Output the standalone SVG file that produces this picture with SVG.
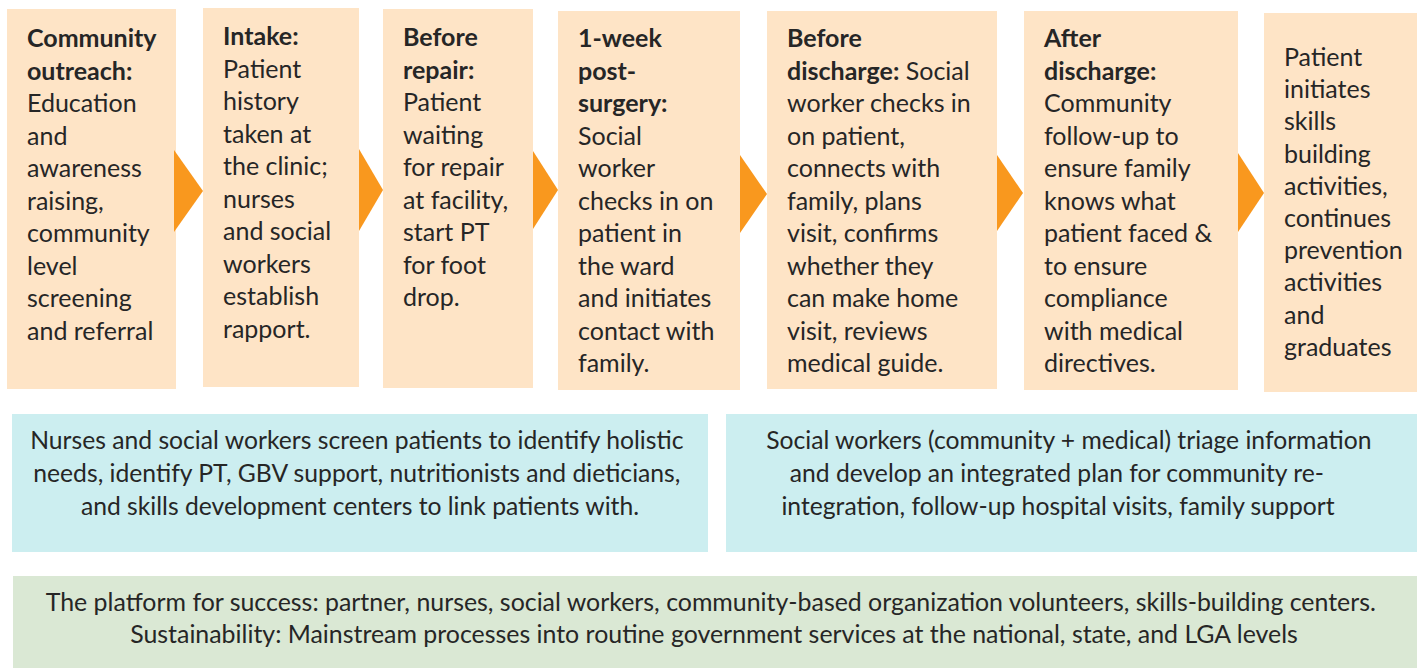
<svg xmlns="http://www.w3.org/2000/svg" width="1417" height="668" viewBox="0 0 1417 668">
<style>
.step{fill:#FEE4C6}
.cy{fill:#CCEEF0}
.gr{fill:#DAE8D4}
.arr{fill:#F9981E}
text{font-family:Lato,"Open Sans","Liberation Sans",sans-serif;fill:#262626}
.t{font-size:25px}
.b{font-weight:bold}
.c{font-size:24.7px;text-anchor:middle}
.g{font-size:24.9px;text-anchor:middle}
</style>
<rect width="1417" height="668" fill="#ffffff"/>
<g id="step1">
<rect class="step" x="7" y="9" width="169" height="380"/>
<text class="t" x="27">
<tspan class="b" x="27" y="47">Community</tspan>
<tspan class="b" x="27" y="79.5">outreach:</tspan>
<tspan x="27" y="112">Education</tspan>
<tspan x="27" y="144.5">and</tspan>
<tspan x="27" y="177">awareness</tspan>
<tspan x="27" y="209.5">raising,</tspan>
<tspan x="27" y="242">community</tspan>
<tspan x="27" y="274.5">level</tspan>
<tspan x="27" y="307">screening</tspan>
<tspan x="27" y="339.5">and referral</tspan>
</text>
</g>
<g id="step2">
<rect class="step" x="203" y="8" width="156" height="379"/>
<text class="t">
<tspan class="b" x="223" y="45">Intake:</tspan>
<tspan x="223" y="77.5">Patient</tspan>
<tspan x="223" y="110">history</tspan>
<tspan x="223" y="142.5">taken at</tspan>
<tspan x="223" y="175">the clinic;</tspan>
<tspan x="223" y="207.5">nurses</tspan>
<tspan x="223" y="240">and social</tspan>
<tspan x="223" y="272.5">workers</tspan>
<tspan x="223" y="305">establish</tspan>
<tspan x="223" y="337.5">rapport.</tspan>
</text>
</g>
<g id="step3">
<rect class="step" x="383" y="9" width="150" height="379"/>
<text class="t">
<tspan class="b" x="403" y="46">Before</tspan>
<tspan class="b" x="403" y="78.5">repair:</tspan>
<tspan x="403" y="111">Patient</tspan>
<tspan x="403" y="143.5">waiting</tspan>
<tspan x="403" y="176">for repair</tspan>
<tspan x="403" y="208.5">at facility,</tspan>
<tspan x="403" y="241">start PT</tspan>
<tspan x="403" y="273.5">for foot</tspan>
<tspan x="403" y="306">drop.</tspan>
</text>
</g>
<g id="step4">
<rect class="step" x="558" y="11" width="182" height="379"/>
<text class="t">
<tspan class="b" x="578" y="47">1-week</tspan>
<tspan class="b" x="578" y="79.5">post-</tspan>
<tspan class="b" x="578" y="112">surgery:</tspan>
<tspan x="578" y="144.5">Social</tspan>
<tspan x="578" y="177">worker</tspan>
<tspan x="578" y="209.5">checks in on</tspan>
<tspan x="578" y="242">patient in</tspan>
<tspan x="578" y="274.5">the ward</tspan>
<tspan x="578" y="307">and initiates</tspan>
<tspan x="578" y="339.5">contact with</tspan>
<tspan x="578" y="372">family.</tspan>
</text>
</g>
<g id="step5">
<rect class="step" x="767" y="11" width="230" height="378"/>
<text class="t">
<tspan class="b" x="787" y="47">Before</tspan>
<tspan x="787" y="79.5"><tspan class="b">discharge:</tspan> Social</tspan>
<tspan x="787" y="112">worker checks in</tspan>
<tspan x="787" y="144.5">on patient,</tspan>
<tspan x="787" y="177">connects with</tspan>
<tspan x="787" y="209.5">family, plans</tspan>
<tspan x="787" y="242">visit, confirms</tspan>
<tspan x="787" y="274.5">whether they</tspan>
<tspan x="787" y="307">can make home</tspan>
<tspan x="787" y="339.5">visit, reviews</tspan>
<tspan x="787" y="372">medical guide.</tspan>
</text>
</g>
<g id="step6">
<rect class="step" x="1024" y="11" width="214" height="379"/>
<text class="t">
<tspan class="b" x="1044" y="47">After</tspan>
<tspan class="b" x="1044" y="79.5">discharge:</tspan>
<tspan x="1044" y="112">Community</tspan>
<tspan x="1044" y="144.5">follow-up to</tspan>
<tspan x="1044" y="177">ensure family</tspan>
<tspan x="1044" y="209.5">knows what</tspan>
<tspan x="1044" y="242">patient faced &amp;</tspan>
<tspan x="1044" y="274.5">to ensure</tspan>
<tspan x="1044" y="307">compliance</tspan>
<tspan x="1044" y="339.5">with medical</tspan>
<tspan x="1044" y="372">directives.</tspan>
</text>
</g>
<g id="step7">
<rect class="step" x="1264" y="13" width="153" height="379"/>
<text class="t">
<tspan x="1284" y="66">Patient</tspan>
<tspan x="1284" y="98.2">initiates</tspan>
<tspan x="1284" y="130.4">skills</tspan>
<tspan x="1284" y="162.6">building</tspan>
<tspan x="1284" y="194.8">activities,</tspan>
<tspan x="1284" y="227">continues</tspan>
<tspan x="1284" y="259.2">prevention</tspan>
<tspan x="1284" y="291.4">activities</tspan>
<tspan x="1284" y="323.6">and</tspan>
<tspan x="1284" y="355.8">graduates</tspan>
</text>
</g>
<g id="connectors">
<polygon class="arr" points="174,150 203,191 174,232"/>
<polygon class="arr" points="359,149 383,190 359,231"/>
<polygon class="arr" points="533,151 558,190 533,229"/>
<polygon class="arr" points="740,155 767,194 740,233"/>
<polygon class="arr" points="997,155 1023,193 997,231"/>
<polygon class="arr" points="1238,153 1264,193 1238,232"/>
</g>
<g id="screening">
<rect class="cy" x="12" y="414" width="696" height="138"/>
<text class="c">
<tspan x="360" y="449">Nurses and social workers screen patients to identify holistic</tspan>
<tspan x="360" y="482">needs, identify PT, GBV support, nutritionists and dieticians,</tspan>
<tspan x="360" y="515">and skills development centers to link patients with.</tspan>
</text>
</g>
<g id="triage">
<rect class="cy" x="726" y="414" width="691" height="138"/>
<text class="c">
<tspan x="1072" y="449">Social workers (community + medical) triage information</tspan>
<tspan x="1060" y="482">and develop an integrated plan for community re-</tspan>
<tspan x="1058" y="515">integration, follow-up hospital visits, family support</tspan>
</text>
</g>
<g id="platform">
<rect class="gr" x="13" y="576" width="1404" height="92"/>
<text class="g">
<tspan x="714" y="611">The platform for success: partner, nurses, social workers, community-based organization volunteers, skills-building centers.</tspan>
<tspan x="714" y="643">Sustainability: Mainstream processes into routine government services at the national, state, and LGA levels</tspan>
</text>
</g>
</svg>
